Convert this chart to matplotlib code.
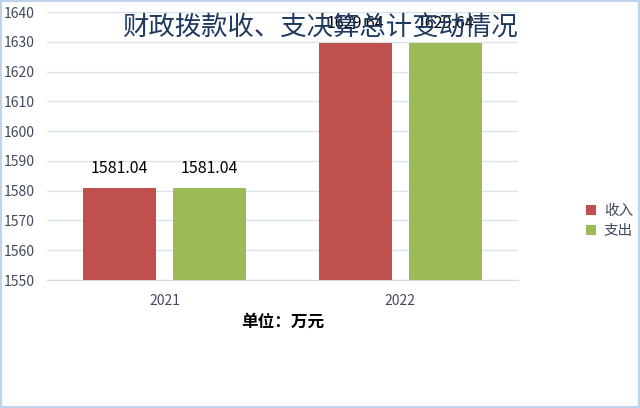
import numpy as np
import matplotlib
matplotlib.use("Agg")
import matplotlib.pyplot as plt
from matplotlib.patches import Rectangle

plt.rcParams['font.family'] = ['Noto Sans CJK SC', 'DejaVu Sans']

YEARS = ["2021", "2022"]
INCOME = [1581.04, 1629.64]
EXPENSE = [1581.04, 1629.64]
SERIES = ["收入", "支出"]
COLORS = ["#C0504D", "#9BBB59"]
TITLE = "财政拨款收、支决算总计变动情况"
UNIT = "单位：万元"

fig = plt.figure(figsize=(6.4, 4.08), dpi=100)
ax = fig.add_axes([47 / 640, 128 / 408, 471 / 640, 268 / 408])

x = np.arange(len(YEARS))
off, w = 0.191, 0.31
for vals, dx, c, lab in [(INCOME, -off, COLORS[0], SERIES[0]),
                         (EXPENSE, off, COLORS[1], SERIES[1])]:
    bars = ax.bar(x + dx, vals, width=w, color=c, label=lab, zorder=2)
    for b, v in zip(bars, vals):
        ax.text(b.get_x() + b.get_width() / 2, v + 3.5, f"{v:.2f}",
                ha="center", va="bottom", fontsize=11.5, color="black", zorder=3)

ax.set_xlim(-0.5, 1.5)
ax.set_ylim(1550, 1640)
ax.set_yticks(np.arange(1550, 1641, 10))
ax.set_xticks(x)
ax.set_xticklabels(YEARS)
ax.yaxis.grid(True, color="#D9E1EA", lw=1, zorder=0)
ax.set_axisbelow(True)
for sp in ("top", "right", "left"):
    ax.spines[sp].set_visible(False)
ax.spines["bottom"].set_color("#D9D9D9")
ax.tick_params(axis="both", length=0, labelsize=10, colors="#404A5A")
ax.tick_params(axis="x", pad=10)
ax.tick_params(axis="y", pad=9)

fig.text(320 / 640, 1 - 28 / 408, TITLE, ha="center", va="center",
         fontsize=19, color="#1F3A60")
fig.text(283 / 640, 1 - 322 / 408, UNIT, ha="center", va="center",
         fontsize=12, fontweight="bold", color="black")

ax.legend(loc="center left", bbox_to_anchor=(573 / 640, 1 - 221 / 408),
          bbox_transform=fig.transFigure, frameon=False, fontsize=10.5,
          handlelength=0.7, handleheight=0.7, handletextpad=0.5,
          labelspacing=0.45, labelcolor="#404A5A")

fig.patches.append(Rectangle((0.002, 0.003), 0.996, 0.994, transform=fig.transFigure,
                             fill=False, edgecolor="#BDD4EA", lw=1.5))

fig.savefig("out.png", dpi=100)
